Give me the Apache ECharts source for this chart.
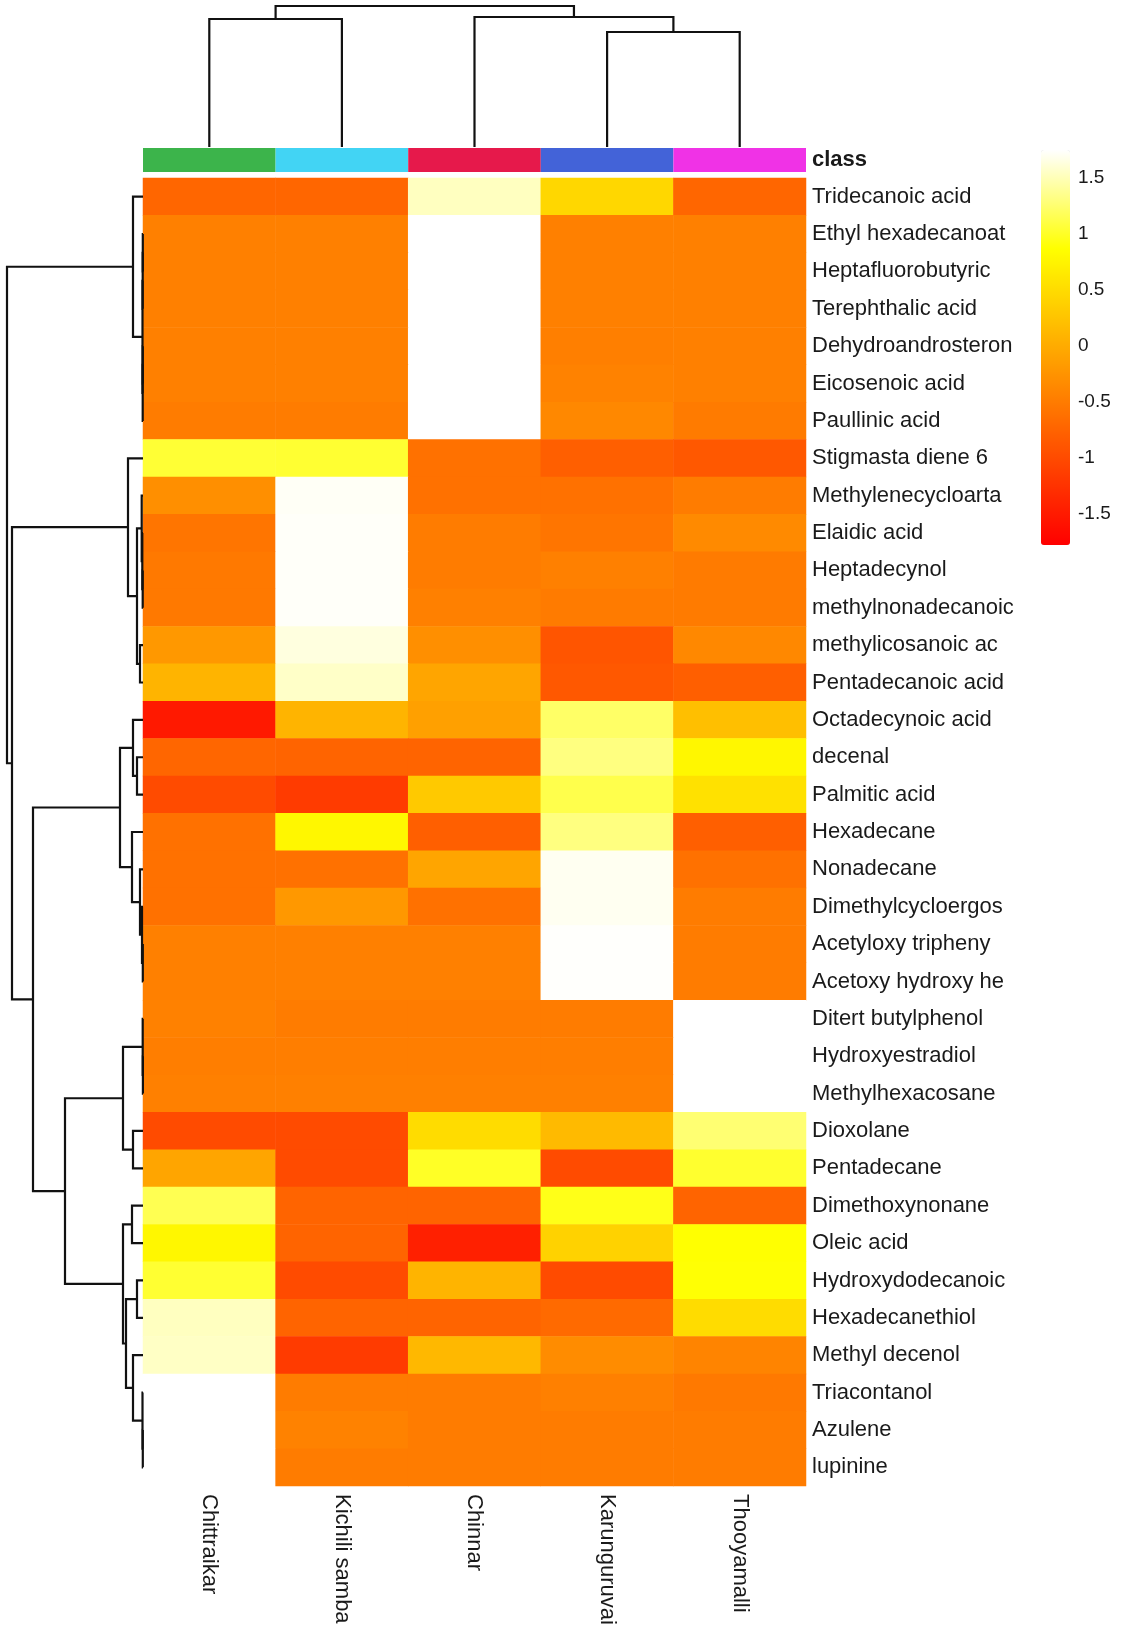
<!DOCTYPE html>
<html lang="en">
<head>
    <meta charset="UTF-8">
    <title>heatmap</title>
    <script src="https://cdn.jsdelivr.net/npm/echarts@6.0.0/dist/echarts.min.js"></script>
    <style>
        body { margin: 0; background: #fff; }
        #main { width: 1123px; height: 1637px; }
    </style>
</head>
<body>
<div id="main"></div>
<script>
    // compounds, top to bottom (dendrogram leaf order)
    var rows = ['Tridecanoic acid', 'Ethyl hexadecanoat', 'Heptafluorobutyric', 'Terephthalic acid',
        'Dehydroandrosteron', 'Eicosenoic acid', 'Paullinic acid', 'Stigmasta diene 6', 'Methylenecycloarta',
        'Elaidic acid', 'Heptadecynol', 'methylnonadecanoic', 'methylicosanoic ac', 'Pentadecanoic acid',
        'Octadecynoic acid', 'decenal', 'Palmitic acid', 'Hexadecane', 'Nonadecane', 'Dimethylcycloergos',
        'Acetyloxy tripheny', 'Acetoxy hydroxy he', 'Ditert butylphenol', 'Hydroxyestradiol',
        'Methylhexacosane', 'Dioxolane', 'Pentadecane', 'Dimethoxynonane', 'Oleic acid',
        'Hydroxydodecanoic', 'Hexadecanethiol', 'Methyl decenol', 'Triacontanol', 'Azulene', 'lupinine'];

    var samples = ['Chittraikar', 'Kichili samba', 'Chinnar', 'Karunguruvai', 'Thooyamalli'];
    var classColors = ['#3cb44b', '#42d4f4', '#e6194b', '#4363d8', '#f032e6'];

    // scaled values, one list per compound (columns = samples)
    var values = [
        [-0.72, -0.72, 1.53, 0.45, -0.72],
        [-0.46, -0.46, 1.75, -0.46, -0.46],
        [-0.46, -0.46, 1.75, -0.46, -0.46],
        [-0.46, -0.46, 1.75, -0.46, -0.46],
        [-0.46, -0.46, 1.75, -0.47, -0.46],
        [-0.46, -0.46, 1.75, -0.43, -0.46],
        [-0.50, -0.50, 1.75, -0.37, -0.51],
        [1.05, 1.04, -0.61, -0.79, -0.87],
        [-0.30, 1.72, -0.61, -0.61, -0.50],
        [-0.57, 1.73, -0.50, -0.57, -0.35],
        [-0.53, 1.73, -0.50, -0.46, -0.51],
        [-0.53, 1.73, -0.46, -0.51, -0.51],
        [-0.20, 1.64, -0.30, -0.90, -0.37],
        [0.09, 1.56, -0.07, -0.87, -0.80],
        [-1.52, 0.09, -0.12, 1.22, 0.20],
        [-0.72, -0.74, -0.74, 1.31, 0.78],
        [-1.00, -1.16, 0.30, 1.13, 0.55],
        [-0.61, 0.78, -0.79, 1.31, -0.80],
        [-0.61, -0.61, -0.07, 1.70, -0.61],
        [-0.61, -0.20, -0.61, 1.70, -0.50],
        [-0.46, -0.46, -0.46, 1.74, -0.50],
        [-0.46, -0.46, -0.46, 1.74, -0.50],
        [-0.45, -0.50, -0.50, -0.50, 1.75],
        [-0.48, -0.48, -0.48, -0.48, 1.75],
        [-0.46, -0.46, -0.46, -0.46, 1.75],
        [-1.00, -1.00, 0.50, 0.15, 1.26],
        [-0.07, -1.00, 1.00, -1.00, 1.03],
        [1.15, -0.74, -0.74, 0.95, -0.74],
        [0.78, -0.74, -1.44, 0.40, 0.87],
        [1.04, -1.00, 0.09, -1.00, 0.88],
        [1.53, -0.74, -0.74, -0.68, 0.50],
        [1.55, -1.16, 0.13, -0.33, -0.41],
        [1.75, -0.50, -0.50, -0.46, -0.53],
        [1.75, -0.43, -0.50, -0.50, -0.50],
        [1.75, -0.50, -0.50, -0.50, -0.50]
    ];

    // colour key
    var scaleMin = -1.78, scaleMax = 1.75;
    var keyTicks = [-1.5, -1, -0.5, 0, 0.5, 1, 1.5];
    var heatColors = ['#ff0000', '#ff2a00', '#ff5500', '#ff8000', '#ffaa00', '#ffd500', '#ffff00', '#ffff80', '#ffffff'];

    // clustering trees: [left, right, merge height], leaves = index
    var rowTree = [
        [0, [[[1, 2, 0.02], 3, 0.03], [[4, 5, 0.02], 6, 0.03], 0.05], 1.0],
        [
            [7, [[8, [9, [10, 11, 0.03], 0.07], 0.13], [12, 13, 0.3], 0.6], 1.5],
            [
                [[14, [15, 16, 0.6], 1.0], [17, [18, [19, [20, 21, 0.02], 0.1], 0.3], 1.1], 2.3],
                [
                    [[22, [23, 24, 0.01], 0.03], [25, 26, 1.0], 2.0],
                    [[27, 28, 1.1], [[29, 30, 0.6], [31, [32, [33, 34, 0.02], 0.05], 1.0], 1.7], 2.0],
                    7.8],
                11.0],
            13.1],
        13.6];
    var rowTreeMax = 13.6;

    var colTree = [[0, 1, 12.8], [2, [3, 4, 11.5], 13.0], 14.1];
    var colTreeMax = 14.1;

    // walk a tree, collecting one U-link per merge
    function links(node, out) {
        if (typeof node === 'number') {
            return {pos: node + 0.5, h: 0};
        }
        var a = links(node[0], out);
        var b = links(node[1], out);
        out.push([a.pos, b.pos, a.h, b.h, node[2]]);
        return {pos: (a.pos + b.pos) / 2, h: node[2]};
    }

    var rowLinks = [];
    links(rowTree, rowLinks);
    var colLinks = [];
    links(colTree, colLinks);

    var heatData = [];
    for (var i = 0; i < rows.length; i++) {
        for (var j = 0; j < samples.length; j++) {
            heatData.push([j, i, values[i][j]]);
        }
    }

    var classData = [];
    for (var k = 0; k < samples.length; k++) {
        classData.push([k, 0]);
    }

    var font = 'Liberation Sans';
    var lineColor = '#111';

    function dendro(horizontal) {
        return function (params, api) {
            var pL = api.value(0), pR = api.value(1), hL = api.value(2), hR = api.value(3), h = api.value(4);
            var pts;
            if (horizontal) {
                pts = [api.coord([hL, pL]), api.coord([h, pL]), api.coord([h, pR]), api.coord([hR, pR])];
            } else {
                pts = [api.coord([pL, hL]), api.coord([pL, h]), api.coord([pR, h]), api.coord([pR, hR])];
            }
            return {
                type: 'polyline',
                shape: {points: pts},
                style: {stroke: lineColor, lineWidth: 2.2, fill: null}
            };
        };
    }

    var chart = echarts.init(document.getElementById('main'));
    var option = {
        animation: false,
        backgroundColor: '#fff',
        grid: [
            {left: 143, top: 178, width: 663, height: 1308, outerBoundsMode: 'none'},   // heatmap
            {left: 143, top: 148, width: 663, height: 24, outerBoundsMode: 'none'},     // class bar
            {left: 143, top: 6, width: 663, height: 141, outerBoundsMode: 'none'},      // column tree
            {left: 7, top: 178, width: 136, height: 1308, outerBoundsMode: 'none'},     // row tree
            {left: 1041, top: 150, width: 29, height: 395, outerBoundsMode: 'none'}     // key labels
        ],
        xAxis: [
            {
                type: 'category', gridIndex: 0, data: samples, position: 'bottom',
                axisLine: {show: false}, axisTick: {show: false}, splitLine: {show: false},
                axisLabel: {rotate: -90, margin: 8, interval: 0, fontSize: 22, fontFamily: font, color: '#1a1a1a'}
            },
            {type: 'category', gridIndex: 1, data: samples, show: false},
            {type: 'value', gridIndex: 2, min: 0, max: samples.length, show: false},
            {type: 'value', gridIndex: 3, min: 0, max: rowTreeMax, inverse: true, show: false},
            {type: 'value', gridIndex: 4, min: 0, max: 1, show: false}
        ],
        yAxis: [
            {
                type: 'category', gridIndex: 0, data: rows, inverse: true, position: 'right',
                axisLine: {show: false}, axisTick: {show: false}, splitLine: {show: false},
                axisLabel: {margin: 6, interval: 0, fontSize: 22, fontFamily: font, color: '#1a1a1a'}
            },
            {
                type: 'category', gridIndex: 1, data: ['class'], position: 'right',
                axisLine: {show: false}, axisTick: {show: false},
                axisLabel: {margin: 6, fontSize: 22, fontWeight: 'bold', fontFamily: font, color: '#1a1a1a'}
            },
            {type: 'value', gridIndex: 2, min: 0, max: colTreeMax, show: false},
            {type: 'value', gridIndex: 3, min: 0, max: rows.length, inverse: true, show: false},
            {
                type: 'value', gridIndex: 4, min: scaleMin, max: scaleMax, position: 'right',
                axisLine: {show: false}, axisTick: {show: false}, splitLine: {show: false},
                axisLabel: {
                    customValues: keyTicks, margin: 8, fontSize: 19, fontFamily: font, color: '#1a1a1a',
                    formatter: function (v) { return String(v); }
                }
            }
        ],
        visualMap: {
            type: 'continuous',
            seriesIndex: 0,
            min: scaleMin,
            max: scaleMax,
            orient: 'vertical',
            left: 1041,
            top: 150,
            padding: 0,
            itemWidth: 29,
            itemHeight: 395,
            calculable: false,
            hoverLink: false,
            inRange: {color: heatColors}
        },
        series: [
            {
                type: 'heatmap', xAxisIndex: 0, yAxisIndex: 0, data: heatData,
                itemStyle: {borderWidth: 0}, emphasis: {disabled: true}
            },
            {
                type: 'custom', xAxisIndex: 1, yAxisIndex: 1, data: classData, silent: true,
                renderItem: function (params, api) {
                    var p = api.coord([api.value(0), api.value(1)]);
                    var s = api.size([1, 1]);
                    return {
                        type: 'rect',
                        shape: {x: p[0] - s[0] / 2, y: p[1] - s[1] / 2, width: s[0], height: s[1]},
                        style: {fill: classColors[params.dataIndex]}
                    };
                }
            },
            {type: 'custom', xAxisIndex: 2, yAxisIndex: 2, data: colLinks, silent: true, clip: false, renderItem: dendro(false)},
            {type: 'custom', xAxisIndex: 3, yAxisIndex: 3, data: rowLinks, silent: true, clip: false, renderItem: dendro(true)},
            {type: 'scatter', xAxisIndex: 4, yAxisIndex: 4, data: [], silent: true}
        ]
    };
    chart.setOption(option);
</script>
</body>
</html>
